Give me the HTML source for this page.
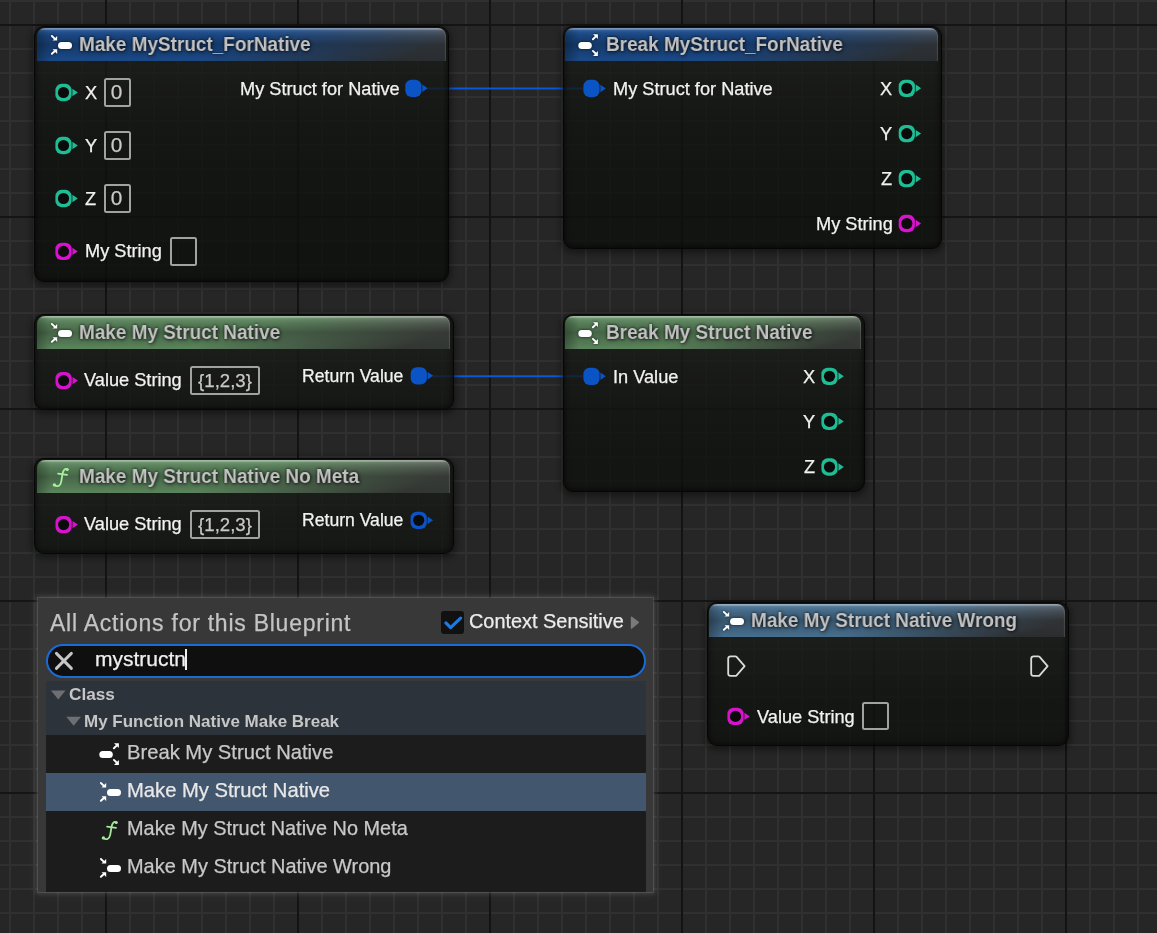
<!DOCTYPE html><html><head><meta charset="utf-8"><style>
html,body{margin:0;padding:0;}
body{width:1157px;height:933px;overflow:hidden;position:relative;font-family:"Liberation Sans",sans-serif;
background-color:#262626;
background-image:
 linear-gradient(to right,#131313 0,#131313 2px,transparent 2px),
 linear-gradient(to bottom,#151515 0,#151515 2px,transparent 2px),
 linear-gradient(to right,#303030 0,#303030 2px,transparent 2px),
 linear-gradient(to bottom,#303030 0,#303030 2px,transparent 2px);
background-size:192px 100%,100% 192px,24px 100%,100% 24px;
background-position:105px 0,0 24px,9px 0,0 0;
}
.a{position:absolute;}
.node{position:absolute;box-sizing:border-box;border:1.5px solid #060606;border-radius:10px;background:linear-gradient(to bottom,rgba(255,255,255,0.045) 35px,rgba(255,255,255,0.016) 94px,rgba(255,255,255,0.006) 149px,rgba(255,255,255,0) 240px),rgba(12,15,11,0.8);box-shadow:inset 0 0 5px 1px rgba(0,0,0,0.55),0 2px 6px 2px rgba(0,0,0,0.4);}
.hdr{position:absolute;border-radius:8px 8px 0 0;box-shadow:inset -1.5px 0 1px -0.5px rgba(255,255,255,0.12);}
.t{position:absolute;will-change:transform;white-space:nowrap;line-height:1;color:#f2f2f2;font-size:18.2px;-webkit-text-stroke:0.25px currentColor;}
.ht{position:absolute;will-change:transform;white-space:nowrap;line-height:1;color:#c2c2c2;font-weight:bold;font-size:20.6px;transform:scaleX(0.92);transform-origin:0 0;text-shadow:0 0 3px rgba(0,0,0,0.75),1px 1px 4px rgba(0,0,0,0.6);}
.ring{position:absolute;width:17px;height:17px;box-sizing:border-box;border-radius:50%;border:4px solid;background:#0b0b0b;}
.fill{position:absolute;width:17px;height:17px;border-radius:50%;}
.box{position:absolute;box-sizing:border-box;border:2px solid #a2a2a2;border-radius:2.5px;}
svg{position:absolute;overflow:visible;}
</style></head><body>
<svg style="left:0;top:0" width="1157" height="933"><line x1="428" y1="88.5" x2="584" y2="88.5" stroke="#0a57d8" stroke-width="2"/><line x1="431" y1="376.3" x2="584" y2="376.3" stroke="#0a57d8" stroke-width="2"/></svg>
<div class="node" style="left:34px;top:26px;width:415.4px;height:256px;"><div class="hdr" style="left:1.50px;top:0.50px;width:409.20px;height:33.00px;background:linear-gradient(to bottom,rgba(255,255,255,0.42) 0,rgba(255,255,255,0.36) 1.3px,rgba(255,255,255,0.1) 2.3px,rgba(255,255,255,0.04) 4px,rgba(255,255,255,0) 8px),linear-gradient(to right,rgba(0,0,0,0.28) 0,rgba(0,0,0,0) 14px),linear-gradient(to bottom,rgba(0,0,0,0) 6%,rgba(0,0,0,0.26) 50%,rgba(0,0,0,0.04) 100%),linear-gradient(160deg,rgba(28,77,142,1) 0%,rgba(28,77,142,1) 48%,rgba(28,77,142,0) 90%),linear-gradient(to bottom,#50565c 0%,#2a2e32 100%);"></div></div>
<svg style="left:50px;top:34px;filter:drop-shadow(0 0 1.5px rgba(0,0,0,0.7))" width="22" height="22" viewBox="0 0 22 22">
<g fill="#fff" stroke="#fff" stroke-linecap="round">
<line x1="1.9" y1="2.0" x2="5.2" y2="5.1" stroke-width="1.9"/>
<polygon points="7.2,6.6 7.2,1.9 2.5,6.6" stroke="none"/>
<line x1="1.9" y1="19.8" x2="5.2" y2="16.7" stroke-width="1.9"/>
<polygon points="7.2,15.2 7.2,19.9 2.5,15.2" stroke="none"/>
<rect x="8" y="8" width="14" height="7" rx="3.5" stroke="none"/>
</g></svg>
<div class="ht" style="left:78.8px;top:33.66px;font-size:20.6px;">Make MyStruct_ForNative</div>
<svg style="left:52.00px;top:80.00px;filter:blur(0.4px)" width="32" height="24" viewBox="0 0 32 24"><rect x="3.40" y="3.85" width="16.2" height="17.3" rx="6.2" ry="6.2" fill="#1fbd94"/><circle cx="11.50" cy="12.50" r="5.6" fill="#0b0b0b"/><polygon points="20.40,8.80 25.80,12.50 20.40,16.20" fill="#1fbd94"/></svg>
<div class="t" style="left:85.19333333333333px;top:83.59px;font-size:18.2px;">X</div>
<div class="box" style="left:104px;top:78.0px;width:27px;height:29.0px;"></div>
<div class="t" style="left:103px;width:27px;text-align:center;top:81.99px;font-size:20.8px;color:#c9c9c9">0</div>
<svg style="left:52.00px;top:134.00px;filter:blur(0.4px)" width="32" height="24" viewBox="0 0 32 24"><rect x="3.40" y="2.85" width="16.2" height="17.3" rx="6.2" ry="6.2" fill="#1fbd94"/><circle cx="11.50" cy="11.50" r="5.6" fill="#0b0b0b"/><polygon points="20.40,7.80 25.80,11.50 20.40,15.20" fill="#1fbd94"/></svg>
<div class="t" style="left:85.19333333333333px;top:136.59px;font-size:18.2px;">Y</div>
<div class="box" style="left:104px;top:131.0px;width:27px;height:29.0px;"></div>
<div class="t" style="left:103px;width:27px;text-align:center;top:134.99px;font-size:20.8px;color:#c9c9c9">0</div>
<svg style="left:52.00px;top:186.00px;filter:blur(0.4px)" width="32" height="24" viewBox="0 0 32 24"><rect x="3.40" y="3.85" width="16.2" height="17.3" rx="6.2" ry="6.2" fill="#1fbd94"/><circle cx="11.50" cy="12.50" r="5.6" fill="#0b0b0b"/><polygon points="20.40,8.80 25.80,12.50 20.40,16.20" fill="#1fbd94"/></svg>
<div class="t" style="left:85.19333333333333px;top:189.59px;font-size:18.2px;">Z</div>
<div class="box" style="left:104px;top:184.0px;width:27px;height:29.0px;"></div>
<div class="t" style="left:103px;width:27px;text-align:center;top:187.99px;font-size:20.8px;color:#c9c9c9">0</div>
<svg style="left:52.00px;top:239.00px;filter:blur(0.4px)" width="32" height="24" viewBox="0 0 32 24"><rect x="3.40" y="3.75" width="16.2" height="17.3" rx="6.2" ry="6.2" fill="#d812cf"/><circle cx="11.50" cy="12.40" r="5.6" fill="#0b0b0b"/><polygon points="20.40,8.70 25.80,12.40 20.40,16.10" fill="#d812cf"/></svg>
<div class="t" style="left:85.09333333333333px;top:242.39px;font-size:18.2px;">My String</div>
<div class="box" style="left:170px;top:237px;width:27px;height:29px;"></div>
<div class="t" style="right:757.6px;top:79.59px;font-size:18.2px;">My Struct for Native</div>
<svg style="left:401.00px;top:76.00px;filter:blur(0.4px)" width="32" height="24" viewBox="0 0 32 24"><rect x="4.30" y="3.65" width="16.2" height="17.3" rx="6.2" ry="6.2" fill="#0a54c6"/><polygon points="21.30,8.60 26.70,12.30 21.30,16.00" fill="#0a54c6"/></svg>
<div class="node" style="left:562.5px;top:26px;width:379.29999999999995px;height:222.7px;"><div class="hdr" style="left:1.50px;top:0.50px;width:373.10px;height:33.00px;background:linear-gradient(to bottom,rgba(255,255,255,0.42) 0,rgba(255,255,255,0.36) 1.3px,rgba(255,255,255,0.1) 2.3px,rgba(255,255,255,0.04) 4px,rgba(255,255,255,0) 8px),linear-gradient(to right,rgba(0,0,0,0.28) 0,rgba(0,0,0,0) 14px),linear-gradient(to bottom,rgba(0,0,0,0) 6%,rgba(0,0,0,0.26) 50%,rgba(0,0,0,0.04) 100%),linear-gradient(160deg,rgba(28,77,142,1) 0%,rgba(28,77,142,1) 48%,rgba(28,77,142,0) 90%),linear-gradient(to bottom,#50565c 0%,#2a2e32 100%);"></div></div>
<svg style="left:578px;top:34px;filter:drop-shadow(0 0 1.5px rgba(0,0,0,0.7))" width="22" height="22" viewBox="0 0 22 22">
<g fill="#fff" stroke="#fff" stroke-linecap="round">
<rect x="0.3" y="8" width="13.5" height="7" rx="3.5" stroke="none"/>
<line x1="14.9" y1="5.3" x2="17.9" y2="2.4" stroke-width="1.9"/>
<polygon points="19.9,0.2 19.9,5.1 15.0,0.2" stroke="none"/>
<line x1="14.9" y1="16.9" x2="17.9" y2="19.8" stroke-width="1.9"/>
<polygon points="19.9,21.9 19.9,17.0 15.0,21.9" stroke="none"/>
</g></svg>
<div class="ht" style="left:606.4px;top:33.66px;font-size:20.6px;">Break MyStruct_ForNative</div>
<svg style="left:580.00px;top:76.00px;filter:blur(0.4px)" width="32" height="24" viewBox="0 0 32 24"><rect x="3.40" y="3.85" width="16.2" height="17.3" rx="6.2" ry="6.2" fill="#0a54c6"/><polygon points="20.40,8.80 25.80,12.50 20.40,16.20" fill="#0a54c6"/></svg>
<div class="t" style="left:612.9933333333333px;top:79.59px;font-size:18.2px;">My Struct for Native</div>
<svg style="left:895.00px;top:76.00px;filter:blur(0.4px)" width="32" height="24" viewBox="0 0 32 24"><rect x="3.70" y="3.65" width="16.2" height="17.3" rx="6.2" ry="6.2" fill="#1fbd94"/><circle cx="11.80" cy="12.30" r="5.6" fill="#0b0b0b"/><polygon points="20.70,8.60 26.10,12.30 20.70,16.00" fill="#1fbd94"/></svg>
<div class="t" style="right:264.6px;top:79.59px;font-size:18.2px;">X</div>
<svg style="left:895.00px;top:122.00px;filter:blur(0.4px)" width="32" height="24" viewBox="0 0 32 24"><rect x="3.70" y="2.95" width="16.2" height="17.3" rx="6.2" ry="6.2" fill="#1fbd94"/><circle cx="11.80" cy="11.60" r="5.6" fill="#0b0b0b"/><polygon points="20.70,7.90 26.10,11.60 20.70,15.30" fill="#1fbd94"/></svg>
<div class="t" style="right:264.6px;top:124.59px;font-size:18.2px;">Y</div>
<svg style="left:895.00px;top:167.00px;filter:blur(0.4px)" width="32" height="24" viewBox="0 0 32 24"><rect x="3.70" y="3.05" width="16.2" height="17.3" rx="6.2" ry="6.2" fill="#1fbd94"/><circle cx="11.80" cy="11.70" r="5.6" fill="#0b0b0b"/><polygon points="20.70,8.00 26.10,11.70 20.70,15.40" fill="#1fbd94"/></svg>
<div class="t" style="right:264.6px;top:169.59px;font-size:18.2px;">Z</div>
<svg style="left:895.00px;top:212.00px;filter:blur(0.4px)" width="32" height="24" viewBox="0 0 32 24"><rect x="3.70" y="2.85" width="16.2" height="17.3" rx="6.2" ry="6.2" fill="#d812cf"/><circle cx="11.80" cy="11.50" r="5.6" fill="#0b0b0b"/><polygon points="20.70,7.80 26.10,11.50 20.70,15.20" fill="#d812cf"/></svg>
<div class="t" style="right:264.6px;top:215.19px;font-size:18.2px;">My String</div>
<div class="node" style="left:34px;top:313.5px;width:420px;height:96.80000000000001px;"><div class="hdr" style="left:1.50px;top:1.00px;width:413.40px;height:33.00px;background:linear-gradient(to bottom,rgba(255,255,255,0.42) 0,rgba(255,255,255,0.36) 1.3px,rgba(255,255,255,0.1) 2.3px,rgba(255,255,255,0.04) 4px,rgba(255,255,255,0) 8px),linear-gradient(to right,rgba(0,0,0,0.28) 0,rgba(0,0,0,0) 14px),linear-gradient(to bottom,rgba(0,0,0,0) 6%,rgba(0,0,0,0.26) 50%,rgba(0,0,0,0.04) 100%),linear-gradient(160deg,rgba(95,138,96,1) 0%,rgba(95,138,96,1) 48%,rgba(95,138,96,0) 90%),linear-gradient(to bottom,#5e625e 0%,#343834 100%);"></div></div>
<svg style="left:50px;top:322px;filter:drop-shadow(0 0 1.5px rgba(0,0,0,0.7))" width="22" height="22" viewBox="0 0 22 22">
<g fill="#fff" stroke="#fff" stroke-linecap="round">
<line x1="1.9" y1="2.0" x2="5.2" y2="5.1" stroke-width="1.9"/>
<polygon points="7.2,6.6 7.2,1.9 2.5,6.6" stroke="none"/>
<line x1="1.9" y1="19.8" x2="5.2" y2="16.7" stroke-width="1.9"/>
<polygon points="7.2,15.2 7.2,19.9 2.5,15.2" stroke="none"/>
<rect x="8" y="8" width="14" height="7" rx="3.5" stroke="none"/>
</g></svg>
<div class="ht" style="left:78.8px;top:321.76px;font-size:20.6px;">Make My Struct Native</div>
<svg style="left:52.00px;top:369.00px;filter:blur(0.4px)" width="32" height="24" viewBox="0 0 32 24"><rect x="3.50" y="2.95" width="16.2" height="17.3" rx="6.2" ry="6.2" fill="#d812cf"/><circle cx="11.60" cy="11.60" r="5.6" fill="#0b0b0b"/><polygon points="20.50,7.90 25.90,11.60 20.50,15.30" fill="#d812cf"/></svg>
<div class="t" style="left:84.49333333333333px;top:371.19px;font-size:18.2px;">Value String</div>
<div class="box" style="left:190px;top:366px;width:70px;height:29px;"></div>
<div class="t" style="left:189.5px;width:70px;text-align:center;top:371.76px;font-size:18.6px;color:#c9c9c9">{1,2,3}</div>
<div class="t" style="right:753.5px;top:367.70px;font-size:17.6px;">Return Value</div>
<svg style="left:407.00px;top:364.00px;filter:blur(0.4px)" width="32" height="24" viewBox="0 0 32 24"><rect x="3.70" y="3.15" width="16.2" height="17.3" rx="6.2" ry="6.2" fill="#0a54c6"/><polygon points="20.70,8.10 26.10,11.80 20.70,15.50" fill="#0a54c6"/></svg>
<div class="node" style="left:34px;top:457.5px;width:420px;height:96.79999999999995px;"><div class="hdr" style="left:1.50px;top:1.00px;width:413.40px;height:33.00px;background:linear-gradient(to bottom,rgba(255,255,255,0.42) 0,rgba(255,255,255,0.36) 1.3px,rgba(255,255,255,0.1) 2.3px,rgba(255,255,255,0.04) 4px,rgba(255,255,255,0) 8px),linear-gradient(to right,rgba(0,0,0,0.28) 0,rgba(0,0,0,0) 14px),linear-gradient(to bottom,rgba(0,0,0,0) 6%,rgba(0,0,0,0.26) 50%,rgba(0,0,0,0.04) 100%),linear-gradient(160deg,rgba(95,138,96,1) 0%,rgba(95,138,96,1) 48%,rgba(95,138,96,0) 90%),linear-gradient(to bottom,#5e625e 0%,#343834 100%);"></div></div>
<svg style="left:48px;top:464px" width="24" height="26" viewBox="0 0 24 26">
<g fill="none" stroke="#a8ee9f" stroke-width="1.8" stroke-linecap="round">
<path d="M19.4,5.6 C17.2,3.6 15.2,6.2 14.6,9.5 L13.2,17.8 C12.5,21.6 9.6,23.2 6.6,21.2"/>
<path d="M10.1,9.6 L19.0,10.8"/>
</g><g fill="#a8ee9f"><circle cx="19.2" cy="5.5" r="1.6"/><circle cx="6.4" cy="20.9" r="1.7"/></g></svg>
<div class="ht" style="left:78.8px;top:465.76px;font-size:20.6px;">Make My Struct Native No Meta</div>
<svg style="left:52.00px;top:513.00px;filter:blur(0.4px)" width="32" height="24" viewBox="0 0 32 24"><rect x="3.50" y="2.95" width="16.2" height="17.3" rx="6.2" ry="6.2" fill="#d812cf"/><circle cx="11.60" cy="11.60" r="5.6" fill="#0b0b0b"/><polygon points="20.50,7.90 25.90,11.60 20.50,15.30" fill="#d812cf"/></svg>
<div class="t" style="left:84.49333333333333px;top:515.19px;font-size:18.2px;">Value String</div>
<div class="box" style="left:190px;top:510px;width:70px;height:29px;"></div>
<div class="t" style="left:189.5px;width:70px;text-align:center;top:515.76px;font-size:18.6px;color:#c9c9c9">{1,2,3}</div>
<div class="t" style="right:753.5px;top:511.70px;font-size:17.6px;">Return Value</div>
<svg style="left:407.00px;top:508.00px;filter:blur(0.4px)" width="32" height="24" viewBox="0 0 32 24"><rect x="3.60" y="3.65" width="16.2" height="17.3" rx="6.2" ry="6.2" fill="#0a54c6"/><circle cx="11.70" cy="12.30" r="5.6" fill="#0b0b0b"/><polygon points="20.60,8.60 26.00,12.30 20.60,16.00" fill="#0a54c6"/></svg>
<div class="node" style="left:562.5px;top:313.5px;width:302.5px;height:178.3px;"><div class="hdr" style="left:1.50px;top:1.00px;width:296.10px;height:33.00px;background:linear-gradient(to bottom,rgba(255,255,255,0.42) 0,rgba(255,255,255,0.36) 1.3px,rgba(255,255,255,0.1) 2.3px,rgba(255,255,255,0.04) 4px,rgba(255,255,255,0) 8px),linear-gradient(to right,rgba(0,0,0,0.28) 0,rgba(0,0,0,0) 14px),linear-gradient(to bottom,rgba(0,0,0,0) 6%,rgba(0,0,0,0.26) 50%,rgba(0,0,0,0.04) 100%),linear-gradient(160deg,rgba(95,138,96,1) 0%,rgba(95,138,96,1) 48%,rgba(95,138,96,0) 90%),linear-gradient(to bottom,#5e625e 0%,#343834 100%);"></div></div>
<svg style="left:578px;top:322px;filter:drop-shadow(0 0 1.5px rgba(0,0,0,0.7))" width="22" height="22" viewBox="0 0 22 22">
<g fill="#fff" stroke="#fff" stroke-linecap="round">
<rect x="0.3" y="8" width="13.5" height="7" rx="3.5" stroke="none"/>
<line x1="14.9" y1="5.3" x2="17.9" y2="2.4" stroke-width="1.9"/>
<polygon points="19.9,0.2 19.9,5.1 15.0,0.2" stroke="none"/>
<line x1="14.9" y1="16.9" x2="17.9" y2="19.8" stroke-width="1.9"/>
<polygon points="19.9,21.9 19.9,17.0 15.0,21.9" stroke="none"/>
</g></svg>
<div class="ht" style="left:606.0px;top:321.76px;font-size:20.6px;">Break My Struct Native</div>
<svg style="left:580.00px;top:364.00px;filter:blur(0.4px)" width="32" height="24" viewBox="0 0 32 24"><rect x="3.40" y="3.65" width="16.2" height="17.3" rx="6.2" ry="6.2" fill="#0a54c6"/><polygon points="20.40,8.60 25.80,12.30 20.40,16.00" fill="#0a54c6"/></svg>
<div class="t" style="left:612.9933333333333px;top:367.59px;font-size:18.2px;">In Value</div>
<svg style="left:818.00px;top:364.00px;filter:blur(0.4px)" width="32" height="24" viewBox="0 0 32 24"><rect x="3.40" y="3.65" width="16.2" height="17.3" rx="6.2" ry="6.2" fill="#1fbd94"/><circle cx="11.50" cy="12.30" r="5.6" fill="#0b0b0b"/><polygon points="20.40,8.60 25.80,12.30 20.40,16.00" fill="#1fbd94"/></svg>
<div class="t" style="right:342.1px;top:367.59px;font-size:18.2px;">X</div>
<svg style="left:818.00px;top:409.00px;filter:blur(0.4px)" width="32" height="24" viewBox="0 0 32 24"><rect x="3.40" y="3.75" width="16.2" height="17.3" rx="6.2" ry="6.2" fill="#1fbd94"/><circle cx="11.50" cy="12.40" r="5.6" fill="#0b0b0b"/><polygon points="20.40,8.70 25.80,12.40 20.40,16.10" fill="#1fbd94"/></svg>
<div class="t" style="right:342.1px;top:412.59px;font-size:18.2px;">Y</div>
<svg style="left:818.00px;top:455.00px;filter:blur(0.4px)" width="32" height="24" viewBox="0 0 32 24"><rect x="3.40" y="3.35" width="16.2" height="17.3" rx="6.2" ry="6.2" fill="#1fbd94"/><circle cx="11.50" cy="12.00" r="5.6" fill="#0b0b0b"/><polygon points="20.40,8.30 25.80,12.00 20.40,15.70" fill="#1fbd94"/></svg>
<div class="t" style="right:342.1px;top:458.09px;font-size:18.2px;">Z</div>
<div class="node" style="left:707px;top:602px;width:361.79999999999995px;height:143.70000000000005px;"><div class="hdr" style="left:1.00px;top:0.50px;width:355.90px;height:33.00px;background:linear-gradient(to bottom,rgba(255,255,255,0.42) 0,rgba(255,255,255,0.36) 1.3px,rgba(255,255,255,0.1) 2.3px,rgba(255,255,255,0.04) 4px,rgba(255,255,255,0) 8px),linear-gradient(to right,rgba(0,0,0,0.28) 0,rgba(0,0,0,0) 14px),linear-gradient(to bottom,rgba(0,0,0,0) 6%,rgba(0,0,0,0.26) 50%,rgba(0,0,0,0.04) 100%),linear-gradient(160deg,rgba(74,115,148,1) 0%,rgba(74,115,148,1) 48%,rgba(74,115,148,0) 90%),linear-gradient(to bottom,#55585c 0%,#2c2e30 100%);"></div></div>
<svg style="left:722px;top:610px;filter:drop-shadow(0 0 1.5px rgba(0,0,0,0.7))" width="22" height="22" viewBox="0 0 22 22">
<g fill="#fff" stroke="#fff" stroke-linecap="round">
<line x1="1.9" y1="2.0" x2="5.2" y2="5.1" stroke-width="1.9"/>
<polygon points="7.2,6.6 7.2,1.9 2.5,6.6" stroke="none"/>
<line x1="1.9" y1="19.8" x2="5.2" y2="16.7" stroke-width="1.9"/>
<polygon points="7.2,15.2 7.2,19.9 2.5,15.2" stroke="none"/>
<rect x="8" y="8" width="14" height="7" rx="3.5" stroke="none"/>
</g></svg>
<div class="ht" style="left:750.5px;top:609.56px;font-size:20.6px;">Make My Struct Native Wrong</div>
<svg style="left:727px;top:655px" width="20" height="23"><path d="M1.2,3.8 Q1.2,1.4 3.6,1.4 H8.4 Q9.1,1.4 9.6,1.9 L17.6,11.1 L9.6,20.3 Q9.1,20.9 8.4,20.9 H3.6 Q1.2,20.9 1.2,18.5 Z" fill="none" stroke="#dadada" stroke-width="1.8" stroke-linejoin="round"/></svg>
<svg style="left:1029.5px;top:655px" width="20" height="23"><path d="M1.2,3.8 Q1.2,1.4 3.6,1.4 H8.4 Q9.1,1.4 9.6,1.9 L17.6,11.1 L9.6,20.3 Q9.1,20.9 8.4,20.9 H3.6 Q1.2,20.9 1.2,18.5 Z" fill="none" stroke="#dadada" stroke-width="1.8" stroke-linejoin="round"/></svg>
<svg style="left:724.00px;top:704.00px;filter:blur(0.4px)" width="32" height="24" viewBox="0 0 32 24"><rect x="3.40" y="3.75" width="16.2" height="17.3" rx="6.2" ry="6.2" fill="#d812cf"/><circle cx="11.50" cy="12.40" r="5.6" fill="#0b0b0b"/><polygon points="20.40,8.70 25.80,12.40 20.40,16.10" fill="#d812cf"/></svg>
<div class="t" style="left:756.7933333333333px;top:707.59px;font-size:18.2px;">Value String</div>
<div class="box" style="left:862px;top:702px;width:27px;height:28px;"></div>
<div class="a" style="left:38px;top:597.5px;width:614.7px;height:294px;background:#383838;box-shadow:0 0 0 1px rgba(255,255,255,0.1),0 0 4px 2px rgba(255,255,255,0.1),0 0 10px 3px rgba(255,255,255,0.06);"></div>
<div class="t" style="left:49.8px;top:611.53px;font-size:23px;color:#c4c4c4;letter-spacing:0.75px;">All Actions for this Blueprint</div>
<div class="a" style="left:441px;top:611px;width:23px;height:23px;border-radius:3px;background:#111;"></div>
<svg style="left:0;top:0" width="1" height="1"><polyline points="445.9,622.9 450.6,627.6 460.6,618.1" fill="none" stroke="#1b7ae6" stroke-width="3.2" stroke-linejoin="round" stroke-linecap="round"/></svg>
<div class="t" style="left:468.79999999999995px;top:611.95px;font-size:19.9px;color:#ececec;">Context Sensitive</div>
<svg style="left:0;top:0" width="1" height="1"><polygon points="631.6,617.4 638.2,622.5 631.6,627.9" fill="#7a7a7a" stroke="#7a7a7a" stroke-width="1.6" stroke-linejoin="round"/></svg>
<div class="a" style="left:45.5px;top:644.3px;width:600px;height:34px;box-sizing:border-box;border:2px solid #1a6bd6;border-radius:17px;background:#0f0f0f;"></div>
<svg style="left:0;top:0" width="1" height="1"><path d="M56.4,653.4 L71.4,668.4 M71.4,653.4 L56.4,668.4" stroke="#c6c6c6" stroke-width="2.9" stroke-linecap="round"/></svg>
<div class="t" style="left:95.0px;top:648.02px;font-size:21px;color:#f0f0f0;">mystructn</div>
<div class="a" style="left:185px;top:649px;width:2px;height:21px;background:#f0f0f0;"></div>
<div class="a" style="left:46px;top:681px;width:600px;height:54px;background:#2d333b;"></div>
<svg style="left:0;top:0" width="1" height="1"><polygon points="51,690.5 65.5,690.5 58.25,699.5" fill="#6d6f72"/><polygon points="66.3,716.8 81,716.8 73.65,725.8" fill="#6d6f72"/></svg>
<div class="t" style="left:69.4px;top:686.14px;font-size:17.2px;font-weight:bold;color:#c6c6c6;-webkit-text-stroke:0;">Class</div>
<div class="t" style="left:84.39999999999999px;top:713.11px;font-size:17px;font-weight:bold;color:#c6c6c6;-webkit-text-stroke:0;">My Function Native Make Break</div>
<div class="a" style="left:46px;top:735px;width:600px;height:156.5px;background:#1c1c1c;"></div>
<div class="a" style="left:46px;top:773px;width:600px;height:38px;background:#42566e;"></div>
<svg style="left:99px;top:743px;" width="22" height="22" viewBox="0 0 22 22">
<g fill="#fff" stroke="#fff" stroke-linecap="round">
<rect x="0.3" y="8" width="13.5" height="7" rx="3.5" stroke="none"/>
<line x1="14.9" y1="5.3" x2="17.9" y2="2.4" stroke-width="1.9"/>
<polygon points="19.9,0.2 19.9,5.1 15.0,0.2" stroke="none"/>
<line x1="14.9" y1="16.9" x2="17.9" y2="19.8" stroke-width="1.9"/>
<polygon points="19.9,21.9 19.9,17.0 15.0,21.9" stroke="none"/>
</g></svg>
<div class="t" style="left:127px;top:741.70px;font-size:20.2px;color:#c8c8c8;">Break My Struct Native</div>
<svg style="left:99px;top:781px;" width="22" height="22" viewBox="0 0 22 22">
<g fill="#fff" stroke="#fff" stroke-linecap="round">
<line x1="1.9" y1="2.0" x2="5.2" y2="5.1" stroke-width="1.9"/>
<polygon points="7.2,6.6 7.2,1.9 2.5,6.6" stroke="none"/>
<line x1="1.9" y1="19.8" x2="5.2" y2="16.7" stroke-width="1.9"/>
<polygon points="7.2,15.2 7.2,19.9 2.5,15.2" stroke="none"/>
<rect x="8" y="8" width="14" height="7" rx="3.5" stroke="none"/>
</g></svg>
<div class="t" style="left:127px;top:780.10px;font-size:20.2px;color:#e8e8e8;">Make My Struct Native</div>
<svg style="left:97px;top:817px" width="24" height="26" viewBox="0 0 24 26">
<g fill="none" stroke="#a2ea9a" stroke-width="1.8" stroke-linecap="round">
<path d="M19.4,5.6 C17.2,3.6 15.2,6.2 14.6,9.5 L13.2,17.8 C12.5,21.6 9.6,23.2 6.6,21.2"/>
<path d="M10.1,9.6 L19.0,10.8"/>
</g><g fill="#a2ea9a"><circle cx="19.2" cy="5.5" r="1.6"/><circle cx="6.4" cy="20.9" r="1.7"/></g></svg>
<div class="t" style="left:127px;top:818.65px;font-size:19.9px;color:#c8c8c8;">Make My Struct Native No Meta</div>
<svg style="left:99px;top:857px;" width="22" height="22" viewBox="0 0 22 22">
<g fill="#fff" stroke="#fff" stroke-linecap="round">
<line x1="1.9" y1="2.0" x2="5.2" y2="5.1" stroke-width="1.9"/>
<polygon points="7.2,6.6 7.2,1.9 2.5,6.6" stroke="none"/>
<line x1="1.9" y1="19.8" x2="5.2" y2="16.7" stroke-width="1.9"/>
<polygon points="7.2,15.2 7.2,19.9 2.5,15.2" stroke="none"/>
<rect x="8" y="8" width="14" height="7" rx="3.5" stroke="none"/>
</g></svg>
<div class="t" style="left:127px;top:856.61px;font-size:19.95px;color:#c8c8c8;">Make My Struct Native Wrong</div>
</body></html>
